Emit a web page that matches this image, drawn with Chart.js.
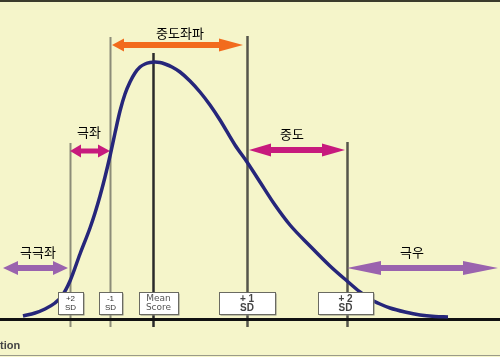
<!DOCTYPE html>
<html>
<head>
<meta charset="utf-8">
<script src="https://cdn.jsdelivr.net/npm/chart.js@4/dist/chart.umd.min.js"></script>
<style>
  html, body { margin: 0; padding: 0; background: #f5f5ca; }
  #c { display: block; }
</style>
</head>
<body>
<canvas id="c" width="500" height="357"></canvas>
<script>
// ---- data (score position on x, frequency on y) ----
const curveX = [23, 35, 45, 55, 62, 70, 80, 90, 95, 100, 105, 110, 115, 120, 125, 130, 135, 140, 145, 150, 155, 160, 165, 172, 180, 190, 200, 210, 220, 235, 247, 260, 275, 290, 310, 330, 347, 360, 370, 380, 390, 405, 420, 435, 448];
const curveY = [4, 7, 11, 17, 24, 39, 66, 92, 107, 124, 143, 164, 187, 209, 226, 238, 247, 253, 256, 257.5, 258, 257.5, 256, 253, 248, 239, 228, 215, 200, 175, 158, 138, 115, 95, 74, 54, 39, 28, 21, 16, 12, 8, 5, 3.5, 3];

const markerNames = [["+2", "SD"], ["-1", "SD"], ["Mean", "Score"], ["+ 1", "SD"], ["+ 2", "SD"]];
const markerX = [70, 110, 153, 247, 347];
const markerTop = [177, 283, 267, 284, 178];

const arrowLabels = ["중도좌파", "극좌", "중도", "극극좌", "극우"];
const arrowFrom = [112, 70, 249, 3, 347];
const arrowTo = [243, 110, 345, 68, 498];
const arrowLevel = [275, 169, 170, 52, 52];
const arrowLabelAt = [180, 89, 292, 38, 412];

const footText = "tion";

// ---- styles ----
const lineStyles = [
  { color: "#8c8c78", width: 2 },
  { color: "#8c8c78", width: 2 },
  { color: "#2a2a2a", width: 2.5 },
  { color: "#55554a", width: 2.5 },
  { color: "#55554a", width: 2.5 }
];
const arrowStyles = [
  { color: "#f26b1d", shaft: 6, headL: 12, headR: 24, headH: 13, dy: 12 },
  { color: "#c71a7d", shaft: 5, headL: 11, headR: 12, headH: 13, dy: 19 },
  { color: "#c71a7d", shaft: 6, headL: 22, headR: 23, headH: 13, dy: 16 },
  { color: "#9a63ae", shaft: 6, headL: 15, headR: 15, headH: 14, dy: 16 },
  { color: "#9a63ae", shaft: 6, headL: 34, headR: 35, headH: 14, dy: 16 }
];
const boxStyles = [
  { dx: 0.5, w: 25, font: "8px 'Liberation Sans'", color: "#333" },
  { dx: 0.5, w: 23, font: "8px 'Liberation Sans'", color: "#333" },
  { dx: 5.5, w: 39, font: "9px 'DejaVu Sans'", color: "#555" },
  { dx: 0, w: 56, font: "bold 10px 'Liberation Sans'", color: "#444" },
  { dx: -1.5, w: 55, font: "bold 10px 'Liberation Sans'", color: "#444" }
];

const points = curveX.map((x, i) => ({ x: x, y: curveY[i] }));

const overlay = {
  id: "overlay",
  beforeDraw(chart) {
    const c = chart.ctx;
    c.save();
    c.fillStyle = "#f5f5ca";
    c.fillRect(0, 0, chart.width, chart.height);
    c.restore();
  },
  beforeDatasetsDraw(chart) {
    const c = chart.ctx, xs = chart.scales.x, ys = chart.scales.y;
    c.save();
    // frame lines
    c.fillStyle = "#3b3b2c";
    c.fillRect(0, 0, chart.width, 2);
    c.fillStyle = "#9a9a88";
    c.fillRect(0, chart.height - 2, chart.width, 1);
    // vertical SD lines
    markerX.forEach((x, i) => {
      const p = Math.round(xs.getPixelForValue(x)) + 0.5;
      c.strokeStyle = lineStyles[i].color;
      c.lineWidth = lineStyles[i].width;
      c.beginPath();
      c.moveTo(p, ys.getPixelForValue(markerTop[i]));
      c.lineTo(p, ys.getPixelForValue(-7));
      c.stroke();
    });
    // baseline
    c.strokeStyle = "#111";
    c.lineWidth = 3;
    c.beginPath();
    c.moveTo(xs.getPixelForValue(0), ys.getPixelForValue(0.5));
    c.lineTo(xs.getPixelForValue(500), ys.getPixelForValue(0.5));
    c.stroke();
    // arrows
    arrowLabels.forEach((lab, i) => {
      const s = arrowStyles[i];
      const x1 = xs.getPixelForValue(arrowFrom[i]);
      const x2 = xs.getPixelForValue(arrowTo[i]);
      const y = ys.getPixelForValue(arrowLevel[i]);
      c.fillStyle = s.color;
      c.fillRect(x1 + s.headL - 1, y - s.shaft / 2, (x2 - s.headR) - (x1 + s.headL) + 2, s.shaft);
      c.beginPath();
      c.moveTo(x1, y);
      c.lineTo(x1 + s.headL, y - s.headH / 2);
      c.lineTo(x1 + s.headL, y + s.headH / 2);
      c.closePath();
      c.fill();
      c.beginPath();
      c.moveTo(x2, y);
      c.lineTo(x2 - s.headR, y - s.headH / 2);
      c.lineTo(x2 - s.headR, y + s.headH / 2);
      c.closePath();
      c.fill();
      c.fillStyle = "#000";
      c.font = "13px 'Noto Sans CJK KR'";
      c.textAlign = "center";
      c.textBaseline = "middle";
      c.fillText(lab, xs.getPixelForValue(arrowLabelAt[i]), y - s.dy);
    });
    c.restore();
  },
  afterDatasetsDraw(chart) {
    const c = chart.ctx, xs = chart.scales.x, ys = chart.scales.y;
    c.save();
    const top = ys.getPixelForValue(28), bot = ys.getPixelForValue(6);
    markerNames.forEach((lines, i) => {
      const s = boxStyles[i];
      const cx = xs.getPixelForValue(markerX[i]) + s.dx;
      const l = Math.round(cx - s.w / 2) + 0.5;
      const t = Math.round(top) + 0.5;
      const h = Math.round(bot - top);
      c.fillStyle = "#8a8a80";
      c.fillRect(l + 1, t + 1, s.w, h);
      c.fillStyle = "#ffffff";
      c.fillRect(l, t, s.w, h);
      c.strokeStyle = "#6a6a62";
      c.lineWidth = 1;
      c.strokeRect(l, t, s.w, h);
      c.fillStyle = s.color;
      c.font = s.font;
      c.textAlign = "center";
      c.textBaseline = "middle";
      c.fillText(lines[0], cx, t + h * 0.3);
      c.fillText(lines[1], cx, t + h * 0.7);
    });
    c.fillStyle = "#444";
    c.font = "bold 11px 'Liberation Sans'";
    c.textAlign = "left";
    c.textBaseline = "middle";
    c.fillText(footText, xs.getPixelForValue(0), ys.getPixelForValue(-26));
    c.restore();
  }
};

new Chart(document.getElementById("c"), {
  type: "line",
  data: {
    datasets: [{
      data: points,
      borderColor: "#26267a",
      borderWidth: 3.5,
      pointRadius: 0,
      fill: false,
      cubicInterpolationMode: "monotone",
      clip: false
    }]
  },
  options: {
    responsive: false,
    animation: false,
    devicePixelRatio: 1,
    layout: { padding: 0 },
    events: [],
    plugins: { legend: { display: false }, tooltip: { enabled: false }, title: { display: false } },
    scales: {
      x: { type: "linear", display: false, min: 0, max: 500 },
      y: { type: "linear", display: false, min: -37, max: 320 }
    }
  },
  plugins: [overlay]
});
</script>
</body>
</html>
